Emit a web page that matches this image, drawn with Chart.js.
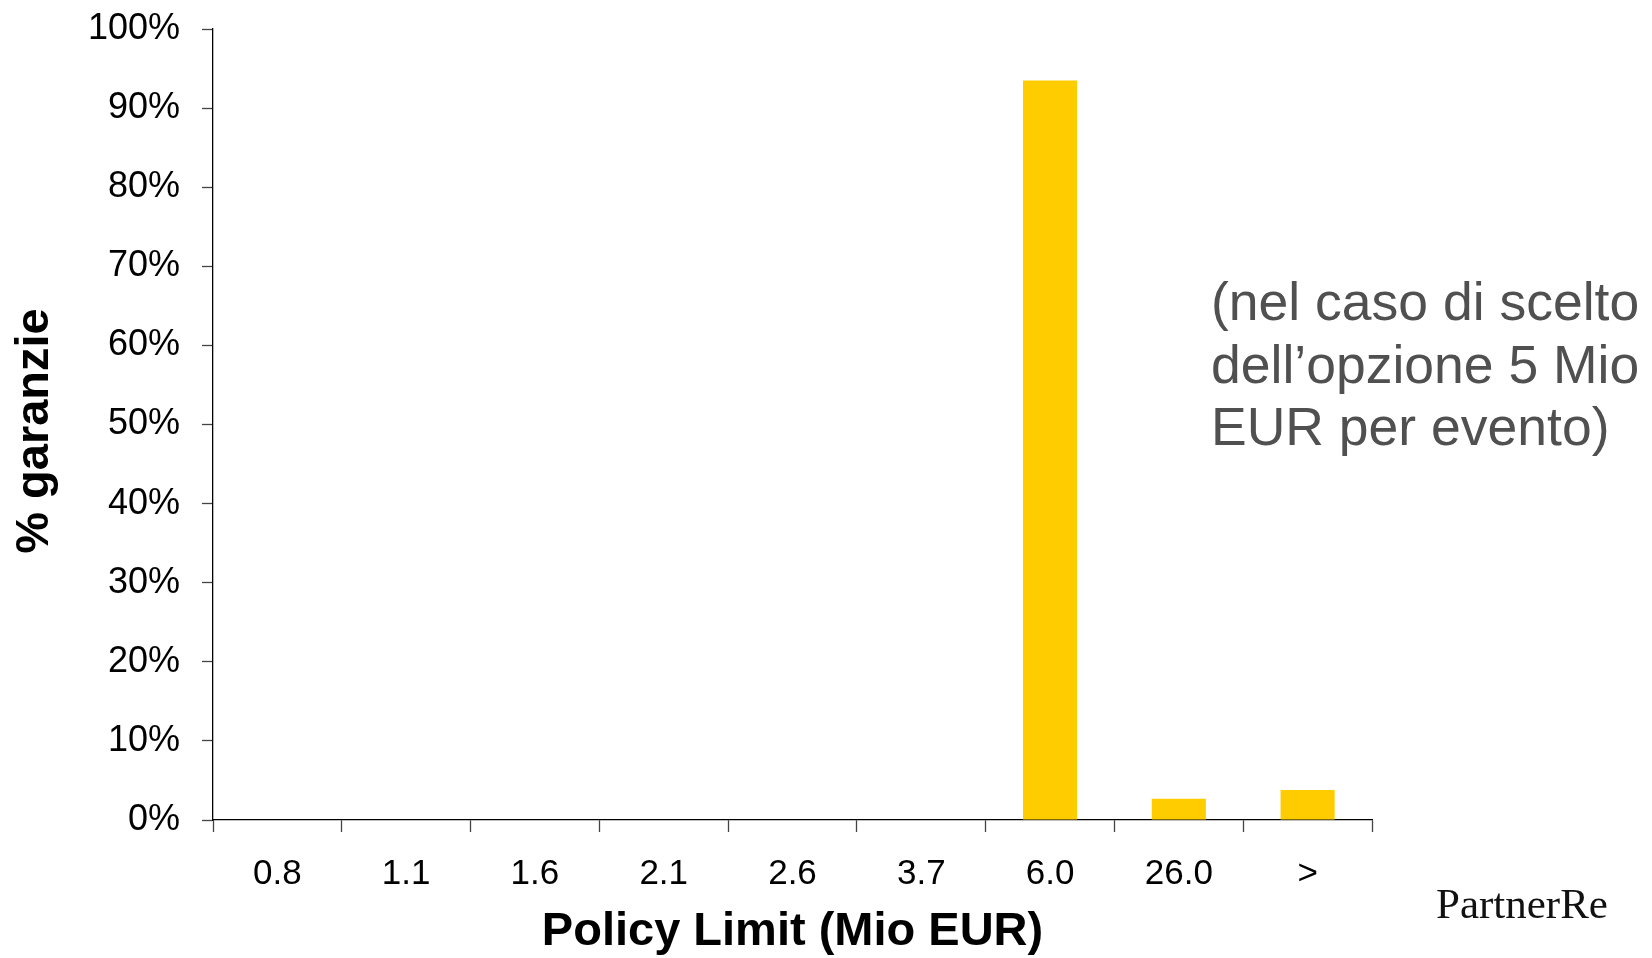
<!DOCTYPE html>
<html>
<head>
<meta charset="utf-8">
<script src="https://cdn.jsdelivr.net/npm/chart.js@4.4.1/dist/chart.umd.min.js"></script>
<style>
  html, body { margin: 0; padding: 0; background: #ffffff; }
  #wrap { position: relative; width: 1652px; height: 958px; overflow: hidden; }
  #chartBox { position: absolute; left: 0; top: 0; width: 1652px; height: 958px; }
  .note {
    position: absolute; left: 1211px; top: 271px;
    font-family: "Liberation Sans", Arial, sans-serif; font-size: 53.5px;
    line-height: 62.5px; color: #505050; white-space: nowrap;
  }
  .logo {
    position: absolute; left: 1436px; top: 882px;
    font-family: "Liberation Serif", "Times New Roman", serif; font-size: 43px;
    line-height: 1; color: #111; white-space: nowrap;
  }
</style>
</head>
<body>
<div id="wrap">
  <div id="chartBox"><canvas id="c"></canvas></div>
  <div class="note">(nel caso di scelto<br>dell’opzione 5 Mio<br>EUR per evento)</div>
  <div class="logo">PartnerRe</div>
</div>
<script>
// ---- data ----
const categories = ['0.8', '1.1', '1.6', '2.1', '2.6', '3.7', '6.0', '26.0', '>'];
const shareValues = [0, 0, 0, 0, 0, 0, 93.5, 2.7, 3.8];
const yTickValues = [0, 10, 20, 30, 40, 50, 60, 70, 80, 90, 100];
const xTitle = 'Policy Limit (Mio EUR)';
const yTitle = '% garanzie ';

const FONT = '"Liberation Sans", Arial, sans-serif';

new Chart(document.getElementById('c'), {
  type: 'bar',
  data: {
    labels: categories,
    datasets: [{
      data: shareValues,
      backgroundColor: '#FFCC00',
      borderWidth: 0,
      barPercentage: 0.42,
      categoryPercentage: 1.0
    }]
  },
  options: {
    responsive: true,
    maintainAspectRatio: false,
    animation: false,
    layout: { padding: { left: 0, top: 29, right: 280, bottom: 0 } },
    plugins: { legend: { display: false }, tooltip: { enabled: false }, title: { display: false } },
    scales: {
      x: {
        offset: true,
        grid: {
          offset: true, drawOnChartArea: false, drawTicks: true,
          tickLength: 12, tickColor: '#444', tickWidth: 1.3
        },
        border: { display: true, color: '#000', width: 1.3 },
        ticks: { color: '#000', font: { family: FONT, size: 35 }, padding: 21, maxRotation: 0, autoSkip: false },
        title: {
          display: true, text: xTitle, color: '#000',
          font: { family: FONT, size: 47, weight: 'bold', lineHeight: 1.1 },
          padding: { top: 0, bottom: 0 }
        },
        afterFit: (s) => { s.height = 138; s.paddingLeft = 0; s.paddingRight = 0; }
      },
      y: {
        min: 0, max: 100,
        afterBuildTicks: (s) => { s.ticks = yTickValues.map(v => ({ value: v })); },
        grid: {
          drawOnChartArea: false, drawTicks: true,
          tickLength: 11, tickColor: '#444', tickWidth: 1.3
        },
        border: { display: true, color: '#000', width: 1.3 },
        ticks: {
          color: '#000', font: { family: FONT, size: 36 }, padding: 22,
          callback: (v) => v + '%'
        },
        title: {
          display: true, text: yTitle, color: '#000',
          font: { family: FONT, size: 47, weight: 'bold', lineHeight: 1.2 },
          padding: { top: 7, bottom: 0 }
        },
        afterFit: (s) => { s.width = 213; s.paddingTop = 0; s.paddingBottom = 0; }
      }
    }
  }
});
</script>
</body>
</html>
